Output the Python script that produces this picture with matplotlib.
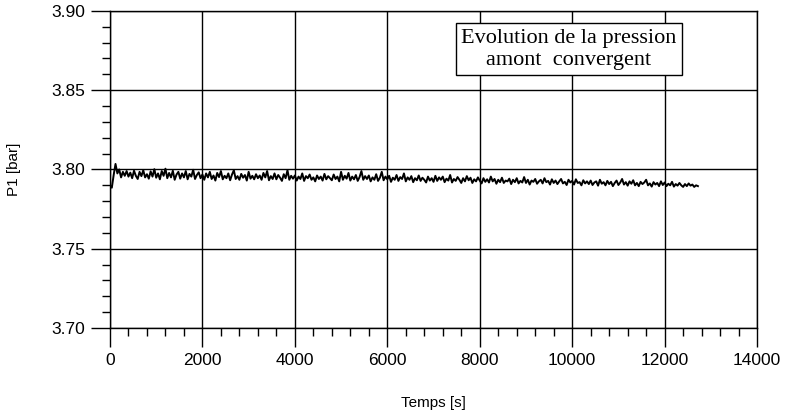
import matplotlib
matplotlib.use("Agg")
import matplotlib.pyplot as plt
from matplotlib.ticker import MultipleLocator
import numpy as np

# temps d'acquisition [s], un point toutes les 40 s
temps = np.arange(0, 12721, 40)

# pression amont convergent P1 [bar]
p1 = [
    3.7900, 3.7885, 3.7965, 3.8035, 3.7975, 3.8000, 3.7950, 3.7985, 3.7960, 3.7990,
    3.7955, 3.7980, 3.7945, 3.7992, 3.7960, 3.7940, 3.7985, 3.7958, 3.7995, 3.7950,
    3.7970, 3.7942, 3.7988, 3.7955, 3.8002, 3.7948, 3.7975, 3.7938, 3.7990, 3.7960,
    3.8005, 3.7945, 3.7978, 3.7950, 3.7992, 3.7935, 3.7968, 3.7985, 3.7942, 3.7975,
    3.7950, 3.7990, 3.7938, 3.7972, 3.7955, 3.7998, 3.7940, 3.7965, 3.7982, 3.7945,
    3.7968, 3.7935, 3.7975, 3.7950, 3.7985, 3.7940, 3.7962, 3.7930, 3.7978, 3.7952,
    3.7990, 3.7938, 3.7960, 3.7945, 3.7975, 3.7932, 3.7968, 3.7995, 3.7940, 3.7958,
    3.7935, 3.7972, 3.7948, 3.7965, 3.7930, 3.7985, 3.7942, 3.7960, 3.7938, 3.7970,
    3.7945, 3.7962, 3.7935, 3.7978, 3.7950, 3.7990, 3.7932, 3.7958, 3.7940, 3.7975,
    3.7938, 3.7965, 3.7948, 3.7928, 3.7970, 3.7945, 3.7995, 3.7935, 3.7960, 3.7942,
    3.7962, 3.7930, 3.7955, 3.7940, 3.7975, 3.7928, 3.7958, 3.7945, 3.7968, 3.7935,
    3.7950, 3.7925, 3.7962, 3.7940, 3.7955, 3.7930, 3.7972, 3.7938, 3.7958, 3.7945,
    3.7932, 3.7968, 3.7940, 3.7955, 3.7925, 3.7985, 3.7935, 3.7960, 3.7942, 3.7978,
    3.7930, 3.7955, 3.7938, 3.7965, 3.7928, 3.7952, 3.7990, 3.7935, 3.7958, 3.7940,
    3.7962, 3.7925, 3.7950, 3.7935, 3.7970, 3.7928, 3.7948, 3.7985, 3.7932, 3.7955,
    3.7938, 3.7960, 3.7922, 3.7948, 3.7935, 3.7965, 3.7928, 3.7952, 3.7940, 3.7975,
    3.7925, 3.7950, 3.7935, 3.7958, 3.7920, 3.7945, 3.7932, 3.7962, 3.7928, 3.7948,
    3.7935, 3.7918, 3.7955, 3.7930, 3.7945, 3.7922, 3.7960, 3.7928, 3.7950, 3.7935,
    3.7955, 3.7920, 3.7942, 3.7930, 3.7965, 3.7918, 3.7940, 3.7928, 3.7952, 3.7935,
    3.7915, 3.7945, 3.7925, 3.7958, 3.7932, 3.7948, 3.7915, 3.7938, 3.7925, 3.7950,
    3.7930, 3.7912, 3.7945, 3.7922, 3.7938, 3.7918, 3.7955, 3.7925, 3.7940, 3.7910,
    3.7935, 3.7920, 3.7948, 3.7915, 3.7930, 3.7925, 3.7942, 3.7908, 3.7935, 3.7920,
    3.7945, 3.7912, 3.7928, 3.7918, 3.7952, 3.7915, 3.7935, 3.7905, 3.7930, 3.7922,
    3.7940, 3.7910, 3.7925, 3.7935, 3.7912, 3.7945, 3.7920, 3.7928, 3.7905, 3.7938,
    3.7915, 3.7930, 3.7908, 3.7925, 3.7940, 3.7912, 3.7922, 3.7902, 3.7935, 3.7918,
    3.7928, 3.7905, 3.7938, 3.7915, 3.7920, 3.7900, 3.7932, 3.7912, 3.7925, 3.7908,
    3.7930, 3.7902, 3.7918, 3.7925, 3.7898, 3.7935, 3.7910, 3.7920, 3.7900, 3.7928,
    3.7908, 3.7922, 3.7895, 3.7915, 3.7930, 3.7902, 3.7918, 3.7940, 3.7905, 3.7920,
    3.7898, 3.7925, 3.7910, 3.7932, 3.7900, 3.7915, 3.7895, 3.7922, 3.7908, 3.7918,
    3.7935, 3.7900, 3.7912, 3.7892, 3.7920, 3.7905, 3.7915, 3.7895, 3.7925, 3.7902,
    3.7918, 3.7895, 3.7910, 3.7900, 3.7922, 3.7892, 3.7908, 3.7898, 3.7915, 3.7900,
    3.7890, 3.7908, 3.7895, 3.7912, 3.7898, 3.7905, 3.7890, 3.7900, 3.7895,
]

x_ticks = [0, 2000, 4000, 6000, 8000, 10000, 12000, 14000]
y_ticks = [3.70, 3.75, 3.80, 3.85, 3.90]

plt.rcParams['font.family'] = ['Liberation Sans', 'DejaVu Sans']

fig = plt.figure(figsize=(7.94, 4.2), dpi=100)
ax = fig.add_axes([0.1385, 0.219, 0.815, 0.755])

ax.plot(temps, p1, color='black', linewidth=1.4)

ax.set_xlim(0, 14000)
ax.set_ylim(3.70, 3.90)
ax.set_xticks(x_ticks)
ax.set_yticks(y_ticks)
ax.set_yticklabels(['%.2f' % v for v in y_ticks])
ax.xaxis.set_minor_locator(MultipleLocator(400))
ax.yaxis.set_minor_locator(MultipleLocator(0.01))
ax.grid(True, which='major', color='black', linewidth=1.0)
ax.tick_params(which='major', direction='out', length=14, width=1.0,
               labelsize=12.5, pad=4, color='black')
ax.tick_params(which='minor', direction='out', length=6, width=1.0, color='black')
for s in ax.spines.values():
    s.set_linewidth(1.0)
    s.set_color('black')

ax.set_xlabel('Temps [s]', fontsize=11, labelpad=20)
ax.set_ylabel('P1 [bar]', fontsize=11, labelpad=22)

ax.text(0.709, 0.879, 'Evolution de la pression\namont  convergent',
        transform=ax.transAxes, ha='center', va='center',
        family='Liberation Serif', fontsize=16, linespacing=1.2,
        bbox=dict(boxstyle='square,pad=0.25', facecolor='white',
                  edgecolor='black', linewidth=1.0))

fig.savefig('out.png', dpi=100)
